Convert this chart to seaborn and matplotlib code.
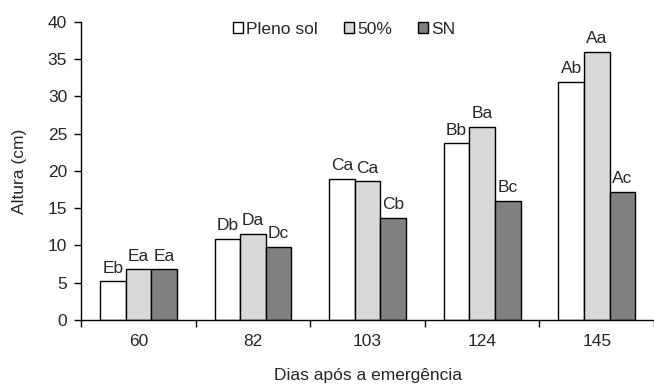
import matplotlib
matplotlib.use("Agg")
import matplotlib.pyplot as plt
import seaborn as sns
import pandas as pd
import numpy as np

days = ["60", "82", "103", "124", "145"]
series = ["Pleno sol", "50%", "SN"]
pleno_sol = [5.2, 10.9, 18.95, 23.7, 32.0]
cinquenta = [6.8, 11.6, 18.6, 25.9, 36.0]
sn = [6.8, 9.85, 13.7, 16.0, 17.2]
lbl_pleno = ["Eb", "Db", "Ca", "Bb", "Ab"]
lbl_50 = ["Ea", "Da", "Ca", "Ba", "Aa"]
lbl_sn = ["Ea", "Dc", "Cb", "Bc", "Ac"]
colors = ["#ffffff", "#d9d9d9", "#808080"]

rows = []
for vals, name in zip([pleno_sol, cinquenta, sn], series):
    for d, v in zip(days, vals):
        rows.append({"Dias": d, "Altura": v, "Trat": name})
df = pd.DataFrame(rows)

sns.set_style("white")
plt.rcParams["font.family"] = ["Liberation Sans", "DejaVu Sans"]
FS = 12.5

fig = plt.figure(figsize=(6.54, 3.85), dpi=100)
ax = fig.add_axes([0.124, 0.169, 0.876, 0.774])

sns.barplot(data=df, x="Dias", y="Altura", hue="Trat", order=days,
            hue_order=series, palette=colors, width=0.67, edgecolor="black",
            linewidth=1.0, ax=ax, errorbar=None, saturation=1)

labels_all = [lbl_pleno, lbl_50, lbl_sn]
for cont, labs in zip(ax.containers, labels_all):
    ax.bar_label(cont, labels=labs, padding=4, fontsize=FS)

ax.set_ylim(0, 40)
ax.set_yticks(range(0, 41, 5))
ax.set_xlim(-0.5, 4.5)
ax.tick_params(axis="y", direction="out", length=5, width=1, left=True,
               labelsize=FS, color="black", pad=5)
ax.tick_params(axis="x", which="major", length=0, labelsize=FS, pad=10)
ax.set_xticks(np.arange(-0.5, 4.6, 1), minor=True)
ax.tick_params(axis="x", which="minor", direction="out", length=5, width=1,
               bottom=True, color="black")
for s in ["top", "right"]:
    ax.spines[s].set_visible(False)
for s in ["left", "bottom"]:
    ax.spines[s].set_color("black")
    ax.spines[s].set_linewidth(1)

ax.set_ylabel("Altura (cm)", fontsize=FS, labelpad=15)
ax.set_xlabel("Dias após a emergência", fontsize=FS, labelpad=14)

leg = ax.legend(loc="center left", bbox_to_anchor=(0.238, 0.975), ncol=3,
                frameon=False, fontsize=FS, handlelength=0.6,
                handleheight=0.6, handletextpad=0.15, columnspacing=1.5)

fig.savefig("out.png", dpi=100)
